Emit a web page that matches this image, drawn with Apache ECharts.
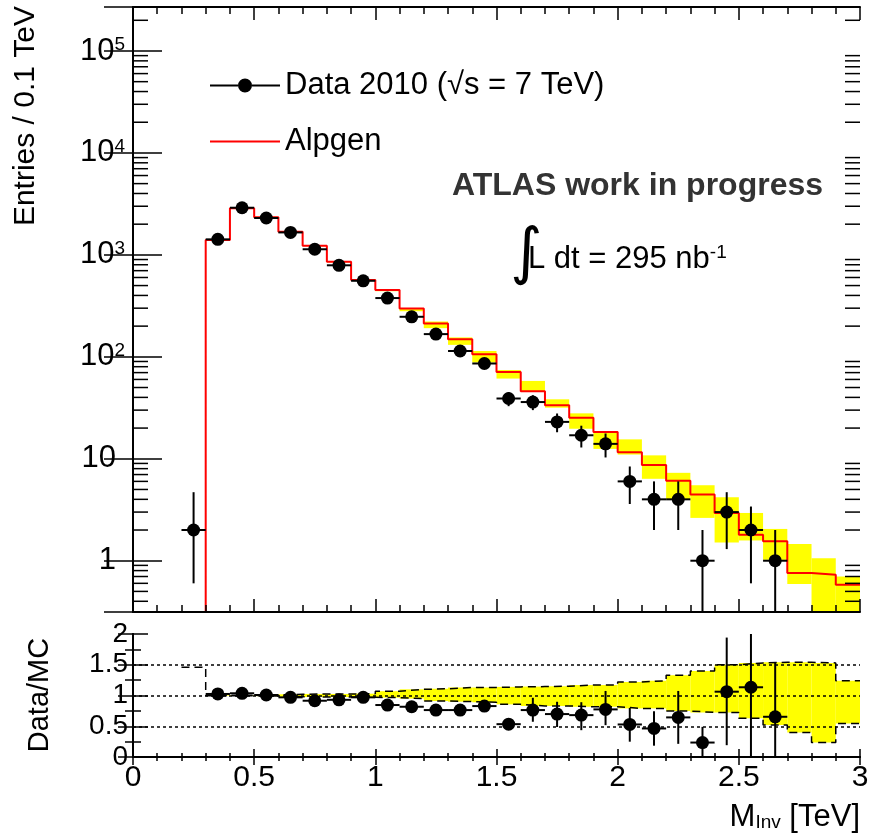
<!DOCTYPE html>
<html>
<head>
<meta charset="utf-8">
<title>M_Inv: Data 2010 vs Alpgen</title>
<script src="https://cdn.jsdelivr.net/npm/echarts@6/dist/echarts.min.js"></script>
<style>
  html, body { margin: 0; padding: 0; background: #fff; }
  #chart { width: 869px; height: 840px; }
</style>
</head>
<body>
<div id="chart"></div>
<script>
const NARROW = "'Liberation Sans Narrow', 'Liberation Sans', Arial, sans-serif";
const SANS = "'Liberation Sans', Arial, sans-serif";
const BIN = 0.1;
const Y_MIN = 0.314;
const Y_MAX = 2.7e5;

// data, bin centres (entries / 0.1 TeV)
const dataX = [0.25, 0.35, 0.45, 0.55, 0.65, 0.75, 0.85, 0.95, 1.05, 1.15, 1.25, 1.35, 1.45,
  1.55, 1.65, 1.75, 1.85, 1.95, 2.05, 2.15, 2.25, 2.35, 2.45, 2.55, 2.65];
const dataY = [2, 1420, 2900, 2300, 1660, 1135, 790, 557, 377, 247, 167, 114, 86,
  39, 36, 23, 17, 14, 6, 4, 4, 1, 3, 2, 1];
const dataErrUp = [2.7, 38, 54, 48, 41, 34, 28, 24, 19, 16, 13, 11, 9.3,
  6.2, 6, 4.8, 4.1, 3.7, 2.4, 2, 2, 1, 1.7, 1.4, 1];
const dataErrDown = [1.4, 38, 54, 48, 41, 34, 28, 24, 19, 16, 13, 11, 9.3,
  6.2, 6, 4.8, 4.1, 3.7, 2.4, 2, 2, 1, 1.7, 1.4, 1];

// Alpgen, bin low edges
const mcEdges = [0.3, 0.4, 0.5, 0.6, 0.7, 0.8, 0.9, 1.0, 1.1, 1.2, 1.3, 1.4, 1.5, 1.6,
  1.7, 1.8, 1.9, 2.0, 2.1, 2.2, 2.3, 2.4, 2.5, 2.6, 2.7, 2.8, 2.9];
const mcY = [1400, 2870, 2340, 1690, 1230, 857, 567, 452, 298, 212, 149, 106, 71, 46,
  33.4, 25.3, 18.3, 11.6, 8.7, 6.1, 4.46, 2.94, 1.8, 1.55, 0.757, 0.73, 0.58];
const mcBandHi = [1410, 2890, 2360, 1705, 1245, 868, 575, 458, 300, 222, 155, 114, 74.3, 58,
  38.3, 27.9, 18.7, 15.5, 10.8, 7.28, 5.5, 4.19, 2.94, 2.05, 1.46, 1.06, 0.7];
const mcBandLo = [1390, 2850, 2320, 1675, 1215, 845, 558, 440, 280, 191, 131, 88, 61.2, 45.2,
  31.7, 19.7, 12.5, 11.0, 6.36, 3.98, 2.63, 1.51, 1.58, 1.02, 0.59, 0.2, 0.2];

// Data/MC
const ratioX = [0.35, 0.45, 0.55, 0.65, 0.75, 0.85, 0.95, 1.05, 1.15, 1.25, 1.35, 1.45,
  1.55, 1.65, 1.75, 1.85, 1.95, 2.05, 2.15, 2.25, 2.35, 2.45, 2.55, 2.65];
const ratioY = [1.025, 1.036, 1.008, 0.97, 0.915, 0.93, 0.97, 0.845, 0.817, 0.763, 0.763, 0.828,
  0.534, 0.763, 0.698, 0.681, 0.774, 0.529, 0.464, 0.644, 0.235, 1.062, 1.134, 0.654];
const ratioErrUp = [0.03, 0.025, 0.025, 0.03, 0.03, 0.035, 0.04, 0.045, 0.055, 0.06, 0.07, 0.09,
  0.09, 0.2, 0.2, 0.21, 0.3, 0.27, 0.28, 0.43, 0.255, 0.88, 1.13, 0.89];
const ratioErrDown = [0.03, 0.025, 0.025, 0.03, 0.03, 0.035, 0.04, 0.045, 0.055, 0.06, 0.07, 0.09,
  0.09, 0.19, 0.21, 0.245, 0.256, 0.28, 0.28, 0.43, 0.235, 0.87, 1.134, 0.654];

// MC uncertainty in the ratio, bin low edges
const ratioBandEdges = [0.2, 0.3, 0.4, 0.5, 0.6, 0.7, 0.8, 0.9, 1.0, 1.1, 1.2, 1.3, 1.4, 1.5,
  1.6, 1.7, 1.8, 1.9, 2.0, 2.1, 2.2, 2.3, 2.4, 2.5, 2.6, 2.7, 2.8, 2.9];
const ratioBandHi = [1.46, 1.005, 1.005, 1.01, 1.02, 1.025, 1.025, 1.03, 1.07, 1.10, 1.11, 1.13, 1.13, 1.14,
  1.145, 1.15, 1.17, 1.17, 1.22, 1.24, 1.33, 1.40, 1.50, 1.53, 1.54, 1.54, 1.53, 1.24];
const ratioBandLo = [null, 0.995, 0.995, 0.99, 0.98, 0.975, 0.975, 0.97, 0.965, 0.95, 0.91, 0.90, 0.89, 0.856,
  0.83, 0.83, 0.817, 0.817, 0.79, 0.79, 0.747, 0.725, 0.725, 0.63, 0.52, 0.40, 0.235, 0.546];
const ratioRefLines = [0.5, 1, 1.5];

const DATA_NAME = 'Data 2010 (√s = 7 TeV)';
const MC_NAME = 'Alpgen';

function steps(edges, values) {
  const pts = [];
  edges.forEach((e, i) => {
    if (values[i] == null) return;
    pts.push([e, values[i]], [e + BIN, values[i]]);
  });
  return pts;
}

function errorPoint(params, api) {
  const x = api.value(0), y = api.value(1), lo = api.value(2), hi = api.value(3);
  const cs = params.coordSys;
  const c = api.coord([x, y]);
  const top = api.coord([x, hi])[1];
  const bottom = lo > 0 ? api.coord([x, lo])[1] : cs.y + cs.height;
  const left = api.coord([x - BIN / 2, y])[0];
  const right = api.coord([x + BIN / 2, y])[0];
  const st = { stroke: '#000', lineWidth: 2 };
  return { type: 'group', children: [
    { type: 'line', shape: { x1: c[0], y1: top, x2: c[0], y2: bottom }, style: st },
    { type: 'line', shape: { x1: left, y1: c[1], x2: right, y2: c[1] }, style: st },
    { type: 'circle', shape: { cx: c[0], cy: c[1], r: 6.5 }, style: { fill: '#000' } },
  ]};
}

function bandRect(params, api) {
  const x0 = api.value(0), lo = api.value(1), hi = api.value(2);
  const cs = params.coordSys;
  const p1 = api.coord([x0, hi]);
  const p2 = api.coord([x0 + BIN, lo]);
  const rect = echarts.graphic.clipRectByRect(
    { x: p1[0], y: p1[1], width: p2[0] - p1[0], height: p2[1] - p1[1] },
    { x: cs.x, y: cs.y, width: cs.width, height: cs.height });
  return rect && { type: 'rect', shape: rect, style: { fill: '#ffff00' } };
}

// ROOT-style minor ticks (2..9 per decade) on both sides of the log frame
const minorLogTicks = [];
for (let k = -1; k <= 5; k++) {
  for (let m = 2; m <= 9; m++) {
    const v = m * Math.pow(10, k);
    if (v > Y_MIN && v < Y_MAX) minorLogTicks.push([v]);
  }
}
function minorTick(params, api) {
  const cs = params.coordSys;
  const y = api.coord([0, api.value(0)])[1];
  const st = { stroke: '#000', lineWidth: 1.5 };
  return { type: 'group', children: [
    { type: 'line', shape: { x1: cs.x, y1: y, x2: cs.x + 15, y2: y }, style: st },
    { type: 'line', shape: { x1: cs.x + cs.width - 15, y1: y, x2: cs.x + cs.width, y2: y }, style: st },
  ]};
}

const FRAME = { lineStyle: { color: '#000', width: 2 } };
const TICK_STYLE = { color: '#000', width: 1.5 };

function xAxis(grid, position, labels, tick, minor) {
  return {
    type: 'value', gridIndex: grid, position, min: 0, max: 3, interval: 0.5, z: 10,
    axisLine: FRAME,
    axisTick: { inside: true, length: tick, lineStyle: TICK_STYLE },
    minorTick: { show: true, splitNumber: 5, length: minor, lineStyle: TICK_STYLE },
    splitLine: { show: false },
    axisLabel: labels
      ? { show: true, margin: 6, color: '#000', fontFamily: NARROW, fontSize: 30, showMinLabel: true, showMaxLabel: true }
      : { show: false },
  };
}

function logAxis(position, labels) {
  return {
    type: 'log', logBase: 10, gridIndex: 0, position, min: Y_MIN, max: Y_MAX, z: 10,
    axisLine: FRAME,
    axisTick: { inside: true, length: 29, lineStyle: TICK_STYLE },
    splitLine: { show: false },
    axisLabel: labels ? {
      show: true, margin: 8, color: '#000',
      formatter: v => {
        const e = Math.log10(v), k = Math.round(e);
        if (Math.abs(e - k) > 1e-6) return '';
        if (k === 0) return '{p|1}';
        if (k === 1) return '{p|10}';
        return '{b|10}{s|' + k + '}';
      },
      rich: {
        p: { fontFamily: NARROW, fontSize: 31, padding: [0, 9, 0, 0] },
        b: { fontFamily: NARROW, fontSize: 31 },
        s: { fontFamily: NARROW, fontSize: 19, verticalAlign: 'top' },
      },
    } : { show: false },
  };
}

function ratioAxis(position, labels) {
  return {
    type: 'value', gridIndex: 1, position, min: 0, max: 2, interval: 0.5, z: 10,
    axisLine: FRAME,
    axisTick: { inside: true, length: 15, lineStyle: TICK_STYLE },
    minorTick: { show: true, splitNumber: 2, length: 8, lineStyle: TICK_STYLE },
    splitLine: { show: false },
    axisLabel: labels
      ? { show: true, margin: 5, color: '#000', fontFamily: SANS, fontSize: 28, showMinLabel: true, showMaxLabel: true }
      : { show: false },
  };
}

const chart = echarts.init(document.getElementById('chart'));

chart.setOption({
  animation: false,
  backgroundColor: '#fff',
  grid: [
    { left: 133, right: 9, top: 7, height: 605, outerBoundsMode: 'none' },
    { left: 133, right: 9, top: 634, height: 123, outerBoundsMode: 'none' },
  ],
  xAxis: [
    xAxis(0, 'bottom', false, 13, 7),
    xAxis(0, 'top', false, 13, 7),
    xAxis(1, 'bottom', true, 8, 4),
    xAxis(1, 'top', false, 8, 4),
  ],
  yAxis: [
    logAxis('left', true),
    logAxis('right', false),
    ratioAxis('left', true),
    ratioAxis('right', false),
  ],
  legend: {
    left: 205, top: 65, orient: 'vertical',
    itemWidth: 70, itemHeight: 14, itemGap: 25,
    selectedMode: false, symbolKeepAspect: true,
    textStyle: { fontFamily: NARROW, fontSize: 31, color: '#000' },
    data: [
      { name: DATA_NAME, itemStyle: { color: '#000' },
        icon: 'path://M0 6H28V8H0Z M42 6H70V8H42Z M28 7A7 7 0 1 1 42 7A7 7 0 1 1 28 7Z' },
      { name: MC_NAME, itemStyle: { color: '#ff0000' }, icon: 'path://M0 6H70V8H0Z' },
    ],
  },
  series: [
    {
      name: 'mc band', type: 'custom', xAxisIndex: 0, yAxisIndex: 0, z: 2, silent: true,
      renderItem: bandRect, encode: { x: 0, y: [1, 2] },
      data: mcEdges.map((e, i) => [e, mcBandLo[i], mcBandHi[i]]),
    },
    {
      name: MC_NAME, type: 'line', xAxisIndex: 0, yAxisIndex: 0, z: 3, silent: true,
      showSymbol: false, clip: true,
      lineStyle: { color: '#ff0000', width: 2 },
      itemStyle: { color: '#ff0000' },
      data: [[mcEdges[0], Y_MIN]].concat(steps(mcEdges, mcY)),
    },
    {
      name: DATA_NAME, type: 'custom', xAxisIndex: 0, yAxisIndex: 0, z: 5, clip: true, silent: true,
      renderItem: errorPoint, encode: { x: 0, y: 1 },
      itemStyle: { color: '#000' },
      data: dataX.map((x, i) => [x, dataY[i], dataY[i] - dataErrDown[i], dataY[i] + dataErrUp[i]]),
    },
    {
      name: 'minor ticks', type: 'custom', xAxisIndex: 0, yAxisIndex: 0, z: 11, silent: true,
      renderItem: minorTick, encode: { y: 0 },
      data: minorLogTicks,
    },
    {
      name: 'ratio band', type: 'custom', xAxisIndex: 2, yAxisIndex: 2, z: 2, silent: true,
      renderItem: bandRect, encode: { x: 0, y: [1, 2] },
      data: ratioBandEdges.map((e, i) => [e, ratioBandLo[i], ratioBandHi[i]]).filter(d => d[1] != null),
    },
    {
      name: 'ratio band hi', type: 'line', xAxisIndex: 2, yAxisIndex: 2, z: 3, silent: true,
      showSymbol: false, clip: true,
      lineStyle: { color: '#000', width: 1.5, type: [8, 5] },
      data: steps(ratioBandEdges, ratioBandHi),
      markLine: {
        silent: true, symbol: 'none', label: { show: false },
        lineStyle: { color: '#000', width: 1.5, type: [3, 3] },
        data: ratioRefLines.map(v => ({ yAxis: v })),
      },
    },
    {
      name: 'ratio band lo', type: 'line', xAxisIndex: 2, yAxisIndex: 2, z: 3, silent: true,
      showSymbol: false, clip: true,
      lineStyle: { color: '#000', width: 1.5, type: [8, 5] },
      data: steps(ratioBandEdges, ratioBandLo),
    },
    {
      name: 'ratio', type: 'custom', xAxisIndex: 2, yAxisIndex: 2, z: 5, clip: true, silent: true,
      renderItem: errorPoint, encode: { x: 0, y: 1 },
      data: ratioX.map((x, i) => [x, ratioY[i], ratioY[i] - ratioErrDown[i], ratioY[i] + ratioErrUp[i]]),
    },
  ],
  graphic: { elements: [
    { type: 'text', x: 26, y: 6, rotation: Math.PI / 2,
      style: { text: 'Entries / 0.1 TeV', fontFamily: NARROW, fontSize: 30, fill: '#000', align: 'right', verticalAlign: 'middle' } },
    { type: 'text', x: 40, y: 695, rotation: Math.PI / 2,
      style: { text: 'Data/MC', fontFamily: SANS, fontSize: 29, fill: '#000', align: 'center', verticalAlign: 'middle' } },
    { type: 'text', x: 860, y: 817,
      style: { text: '{m|M}{sub|Inv}{m| [TeV]}', align: 'right', verticalAlign: 'middle', fill: '#000',
        rich: {
          m: { fontFamily: NARROW, fontSize: 31 },
          sub: { fontFamily: NARROW, fontSize: 19, verticalAlign: 'bottom' },
        } } },
    { type: 'text', x: 452, y: 186,
      style: { text: 'ATLAS work in progress', fontFamily: SANS, fontWeight: 'bold', fontSize: 32, fill: '#333', verticalAlign: 'middle' } },
    { type: 'text', x: 510, y: 256,
      style: { text: '∫', fontFamily: "'DejaVu Sans', sans-serif", fontSize: 62, fill: '#000', verticalAlign: 'middle' } },
    { type: 'text', x: 528, y: 259,
      style: { text: '{t|L dt = 295 nb}{s|-1}', verticalAlign: 'middle', fill: '#000',
        rich: {
          t: { fontFamily: NARROW, fontSize: 31 },
          s: { fontFamily: NARROW, fontSize: 19, verticalAlign: 'top' },
        } } },
  ] },
});

window.addEventListener('resize', () => chart.resize());
</script>
</body>
</html>
